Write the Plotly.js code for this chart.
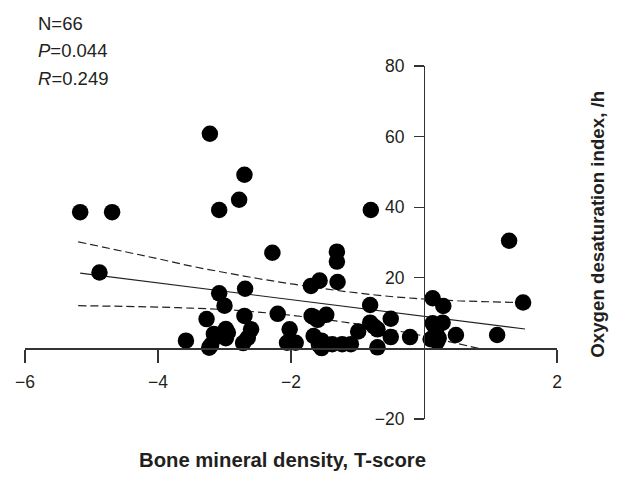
<!DOCTYPE html>
<html>
<head>
<meta charset="utf-8">
<script src="https://cdn.plot.ly/plotly-3.0.1.min.js"></script>
<style>html,body{margin:0;padding:0;background:#fff;}#chart{width:618px;height:481px;}</style>
</head>
<body>
<div id="chart"></div>
<script>
// Bone mineral density (T-score) per patient
const tScore = [
  -5.17, -4.69, -4.88, -3.22, -2.70, -2.78, -3.08, -2.28, -0.80, 1.28, 1.49, 1.10, 0.48,
  -3.08, -2.69, -3.00, -3.27, -2.70, -2.20, -3.58, -3.23, -3.16, -2.98, -2.98, -2.60, -2.72,
  -2.02, -2.06, -1.93,
  -1.70, -1.57, -1.31, -1.31, -1.30, -1.69, -1.60, -1.47, -1.66, -1.54, -1.54, -1.38, -1.23,
  -1.10, -0.99, -0.81, -0.81, -0.70, -0.70, -0.50, -0.50, -0.21,
  0.13, 0.29, 0.13, 0.28, 0.10, 0.22,
  -3.10, -2.95, -1.58, -0.75, 0.18, 0.20, -1.65, -2.65, -3.20
];
// Oxygen desaturation index (/h) per patient
const odi = [
  38.6, 38.6, 21.5, 60.8, 49.2, 42.1, 39.2, 27.1, 39.2, 30.5, 13.0, 3.8, 3.8,
  15.6, 16.9, 12.1, 8.3, 9.2, 9.8, 2.2, 0.2, 4.1, 5.5, 2.9, 5.4, 1.5,
  5.4, 1.6, 1.6,
  17.7, 19.2, 27.4, 24.6, 18.8, 9.2, 8.1, 9.5, 3.5, 2.2, 0.1, 1.2, 1.2,
  1.2, 4.8, 12.3, 7.3, 5.4, 0.3, 8.4, 3.2, 3.2,
  14.2, 12.0, 7.1, 7.3, 2.6, 2.9,
  3.5, 4.5, 1.0, 6.2, 5.0, 2.0, 8.8, 3.0, 1.0
];
// Regression line
const fitX = [-5.17, 1.52];
const fitY = [21.3, 5.5];
// 95% confidence band (upper and lower)
const upperX = [-5.2, -4.5, -4, -3.5, -3, -2.5, -2, -1.5, -1, -0.5, 0, 0.5, 1, 1.45];
const upperY = [30.2, 27.4, 25.4, 23.3, 21.5, 19.8, 18.3, 16.9, 15.7, 14.7, 14.0, 13.5, 13.2, 13.0];
const lowerX = [-5.2, -4.5, -4, -3.5, -3, -2.5, -2, -1.5, -1, -0.5, 0, 0.5, 0.82];
const lowerY = [12.1, 11.9, 11.7, 11.4, 11.0, 10.3, 9.4, 8.2, 6.9, 5.3, 3.5, 1.4, 0];
// Tick labels
const xTicks = [-6, -4, -2, 2];
const yTicks = [-20, 20, 40, 60, 80];
const statLines = ["N=66", "<i>P</i>=0.044", "<i>R</i>=0.249"];

const FONT = "Liberation Sans, Arial, sans-serif";
const INK = "#231f20";

const traces = [
  {x: upperX, y: upperY, mode: "lines", line: {color: INK, width: 1.2, dash: "8px,4px", shape: "spline"}, hoverinfo: "skip"},
  {x: lowerX, y: lowerY, mode: "lines", line: {color: INK, width: 1.2, dash: "8px,4px", shape: "spline"}, hoverinfo: "skip"},
  {x: fitX, y: fitY, mode: "lines", line: {color: INK, width: 1.2}, hoverinfo: "skip"},
  {x: tScore, y: odi, mode: "markers", marker: {color: "#000", size: 16.5, line: {width: 0}}}
];

const annotations = statLines.map((t, i) => ({
  text: t, xref: "paper", yref: "paper", x: 0.0206, y: [1.119, 1.043, 0.964][i],
  xanchor: "left", yanchor: "middle", showarrow: false,
  font: {family: FONT, size: 18.5, color: INK}
}));
annotations.push({
  text: "<b>Bone mineral density, T-score</b>", xref: "paper", yref: "paper",
  x: 0.484, y: -0.115, xanchor: "center", yanchor: "middle", showarrow: false,
  font: {family: FONT, size: 20.3, color: INK}
});
annotations.push({
  text: "<b>Oxygen desaturation index, /h</b>", xref: "paper", yref: "paper",
  x: 1.077, y: 0.553, xanchor: "center", yanchor: "middle", showarrow: false, textangle: -90,
  font: {family: FONT, size: 18.7, color: INK}
});

const layout = {
  width: 618, height: 481,
  margin: {l: 25, r: 61, t: 66, b: 62, pad: 0},
  paper_bgcolor: "#fff", plot_bgcolor: "#fff",
  showlegend: false,
  font: {family: FONT, color: INK},
  xaxis: {
    range: [-6, 2], anchor: "free", position: 0.2,
    tickvals: xTicks, ticks: "outside", ticklen: 13, tickwidth: 1.3, tickcolor: "#333",
    showline: true, linecolor: "#333", linewidth: 1.3,
    showgrid: false, zeroline: false,
    tickfont: {family: FONT, size: 17.5, color: INK},
    ticklabelstandoff: 4
  },
  yaxis: {
    range: [-20, 80], anchor: "free", position: 0.75, side: "left",
    tickvals: yTicks, ticks: "outside", ticklen: 10, tickwidth: 1.3, tickcolor: "#333",
    showline: true, linecolor: "#333", linewidth: 1.3,
    showgrid: false, zeroline: false,
    tickfont: {family: FONT, size: 17.5, color: INK},
    ticklabelstandoff: 6
  },
  annotations: annotations
};

Plotly.newPlot("chart", traces, layout, {displayModeBar: false, staticPlot: true});
</script>
</body>
</html>
